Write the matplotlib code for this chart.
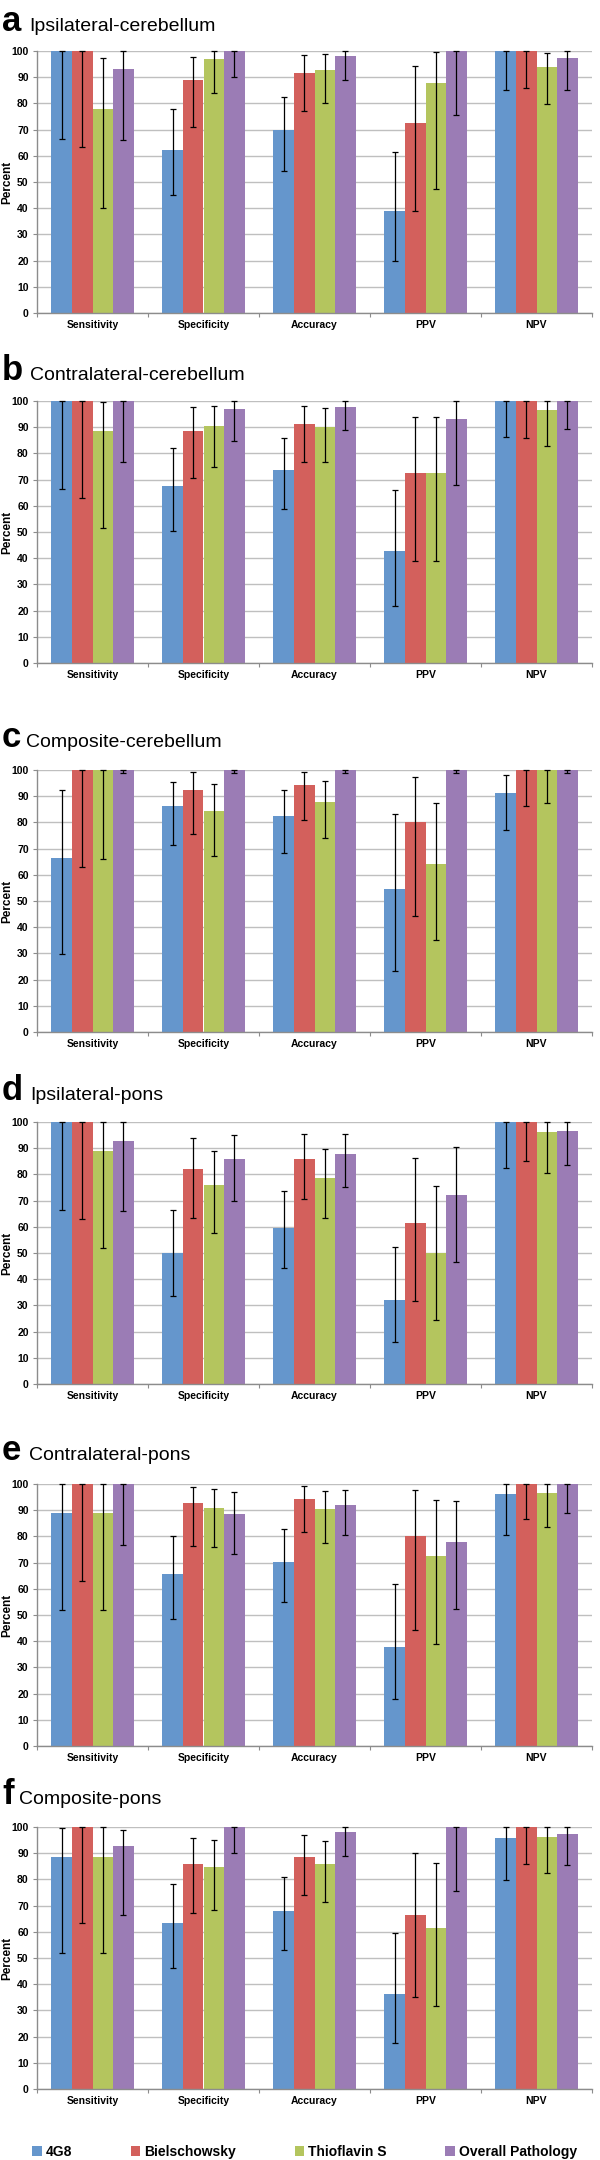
import numpy as np
import matplotlib
matplotlib.use("Agg")
import matplotlib.pyplot as plt
from matplotlib.patches import Patch

plt.rcParams['font.family'] = ['Liberation Sans', 'DejaVu Sans']

categories = ["Sensitivity", "Specificity", "Accuracy", "PPV", "NPV"]
methods = ["4G8", "Bielschowsky", "Thioflavin S", "Overall Pathology"]
colors = ["#6596CC", "#D3605C", "#B4C55E", "#9B7CB5"]

letters = ["a", "b", "c", "d", "e", "f"]
titles = ["Ipsilateral-cerebellum", "Contralateral-cerebellum", "Composite-cerebellum",
          "Ipsilateral-pons", "Contralateral-pons", "Composite-pons"]

# rows = methods (4G8, Bielschowsky, Thioflavin S, Overall Pathology), cols = categories
a_val = [[100, 62.2, 69.8, 39.1, 100], [100, 89.0, 91.5, 72.7, 100],
         [77.8, 97.0, 92.8, 87.7, 94.0], [93.0, 100, 98.0, 100, 97.2]]
a_lo = [[66.6, 44.9, 54.3, 19.8, 85.3], [63.2, 70.9, 77.2, 39.1, 85.8],
        [40.1, 84.0, 80.3, 47.5, 79.8], [66.2, 90.0, 89.1, 75.4, 85.3]]
a_hi = [[100, 77.8, 82.5, 61.5, 100], [100, 97.7, 98.4, 94.2, 100],
        [97.3, 100, 98.7, 99.7, 99.4], [100, 100, 100, 100, 100]]

b_val = [[100, 67.4, 73.8, 42.7, 100], [100, 88.7, 91.3, 72.6, 100],
         [88.7, 90.5, 90.0, 72.6, 96.6], [100, 97.0, 97.8, 93.2, 100]]
b_lo = [[66.3, 50.2, 58.8, 21.8, 86.2], [63.0, 70.7, 76.9, 39.0, 85.7],
        [51.6, 74.9, 76.8, 39.0, 82.8], [76.8, 84.7, 89.0, 67.9, 89.4]]
b_hi = [[100, 82.0, 85.7, 65.9, 100], [100, 97.6, 98.1, 93.9, 100],
        [99.7, 98.0, 97.2, 93.9, 100], [100, 100, 100, 100, 100]]

c_val = [[66.5, 86.4, 82.5, 54.4, 91.4], [100, 92.5, 94.2, 80.0, 100],
         [100, 84.3, 87.7, 64.3, 100], [100, 100, 100, 100, 100]]
c_lo = [[29.8, 71.3, 68.5, 23.2, 77.0], [63.1, 75.6, 80.8, 44.3, 86.3],
        [66.2, 67.3, 73.9, 35.3, 87.3], [99.0, 99.0, 99.0, 99.0, 99.0]]
c_hi = [[92.5, 95.6, 92.3, 83.2, 98.1], [100, 99.1, 99.4, 97.5, 100],
        [100, 94.7, 95.9, 87.3, 100], [100, 100, 100, 100, 100]]

d_val = [[100, 50.0, 59.5, 32.0, 100], [100, 82.1, 86.0, 61.4, 100],
         [88.8, 75.8, 78.6, 50.0, 96.2], [92.9, 85.8, 87.8, 72.2, 96.7]]
d_lo = [[66.5, 33.4, 44.2, 15.9, 82.4], [63.1, 63.2, 70.6, 31.5, 85.3],
        [51.8, 57.7, 63.2, 24.6, 80.5], [66.1, 69.7, 75.3, 46.6, 83.4]]
d_hi = [[100, 66.6, 73.6, 52.3, 100], [100, 94.0, 95.3, 86.3, 100],
        [100, 89.0, 89.7, 75.4, 100], [100, 95.2, 95.3, 90.4, 100]]

e_val = [[88.8, 65.7, 70.2, 37.9, 96.1], [100, 92.8, 94.4, 80.0, 100],
         [88.8, 90.7, 90.5, 72.7, 96.7], [100, 88.5, 91.8, 77.7, 100]]
e_lo = [[51.8, 48.6, 55.1, 18.1, 80.5], [63.1, 76.5, 81.5, 44.4, 86.8],
        [51.8, 75.8, 77.4, 39.1, 83.4], [76.9, 73.4, 80.5, 52.4, 88.8]]
e_hi = [[100, 80.3, 82.9, 61.7, 100], [100, 99.0, 99.4, 97.6, 100],
        [100, 98.2, 97.5, 94.0, 100], [100, 97.0, 97.7, 93.7, 100]]

f_val = [[88.7, 63.2, 68.1, 36.3, 95.9], [100, 85.7, 88.7, 66.6, 100],
         [88.7, 84.8, 85.7, 61.5, 96.3], [92.9, 100, 98.0, 100, 97.2]]
f_lo = [[51.9, 46.1, 52.9, 17.5, 79.7], [63.2, 67.3, 74.1, 35.1, 85.7],
        [51.9, 68.2, 71.5, 31.8, 82.3], [66.3, 90.0, 89.1, 75.4, 85.6]]
f_hi = [[99.7, 78.4, 81.0, 59.5, 100], [100, 95.9, 97.0, 90.1, 100],
        [100, 94.9, 94.7, 86.2, 100], [98.9, 100, 100, 100, 100]]

panels = [(a_val, a_lo, a_hi), (b_val, b_lo, b_hi), (c_val, c_lo, c_hi),
          (d_val, d_lo, d_hi), (e_val, e_lo, e_hi), (f_val, f_lo, f_hi)]

# layout in pixels (figure 600 x 2160)
W, H = 600, 2160
ax_top = [51, 401, 770, 1122, 1484, 1827]
ax_h = 262
ax_left, ax_w = 37, 555
title_base = [31, 380, 747, 1100, 1460, 1804]
title_x = [29, 30, 26, 30, 29, 19]

fig = plt.figure(figsize=(6, 21.6), dpi=100)

x = np.arange(len(categories))
bw = 0.185

for p, (vals, los, his) in enumerate(panels):
    ax = fig.add_axes([ax_left / W, 1 - (ax_top[p] + ax_h) / H, ax_w / W, ax_h / H])
    for m in range(4):
        v = np.array(vals[m])
        lo = np.array(los[m])
        hi = np.array(his[m])
        xs = x + (m - 1.5) * bw
        ax.bar(xs, v, width=bw, color=colors[m], linewidth=0, zorder=2)
        ax.errorbar(xs, v, yerr=[v - lo, hi - v], fmt='none', ecolor='black',
                    elinewidth=0.9, capsize=2.2, capthick=0.9, zorder=3, clip_on=False)
    ax.set_xlim(-0.5, 4.5)
    ax.set_ylim(0, 100)
    ax.set_yticks(np.arange(0, 101, 10))
    ax.yaxis.grid(True, color='#BFBFBF', linewidth=1.0)
    ax.set_axisbelow(True)
    ax.set_xticks(np.arange(-0.5, 5, 1))
    ax.set_xticklabels([])
    for i, c in enumerate(categories):
        ax.text(i, -4.5, c, ha='center', va='center', fontsize=7.5,
                fontweight='bold', transform=ax.transData)
    ax.tick_params(axis='x', length=3, color='#8C8C8C', direction='out')
    ax.tick_params(axis='y', length=3, color='#8C8C8C', labelsize=7.5, pad=3)
    for lab in ax.get_yticklabels():
        lab.set_fontweight('bold')
    for s in ['top', 'right']:
        ax.spines[s].set_visible(False)
    for s in ['left', 'bottom']:
        ax.spines[s].set_color('#8C8C8C')
        ax.spines[s].set_linewidth(1.0)
    ax.set_ylabel("Percent", fontsize=8.5, fontweight='bold')
    ax.yaxis.set_label_coords(-0.043, 0.5)

    yb = 1 - title_base[p] / H
    fig.text(2 / W, yb, letters[p], fontsize=25, fontweight='bold', va='baseline', ha='left')
    fig.text(title_x[p] / W, yb, titles[p], fontsize=14, va='baseline', ha='left')

handles = [Patch(facecolor=colors[m], edgecolor='none') for m in range(4)]
fig.legend(handles, methods, loc='center left', bbox_to_anchor=(32 / W, 1 - 2152 / H),
           ncol=4, frameon=False, borderpad=0, borderaxespad=0,
           handlelength=0.7, handleheight=0.7, handletextpad=0.3, columnspacing=4.2,
           prop={'weight': 'bold', 'size': 10})

fig.savefig("out.png", dpi=100)
